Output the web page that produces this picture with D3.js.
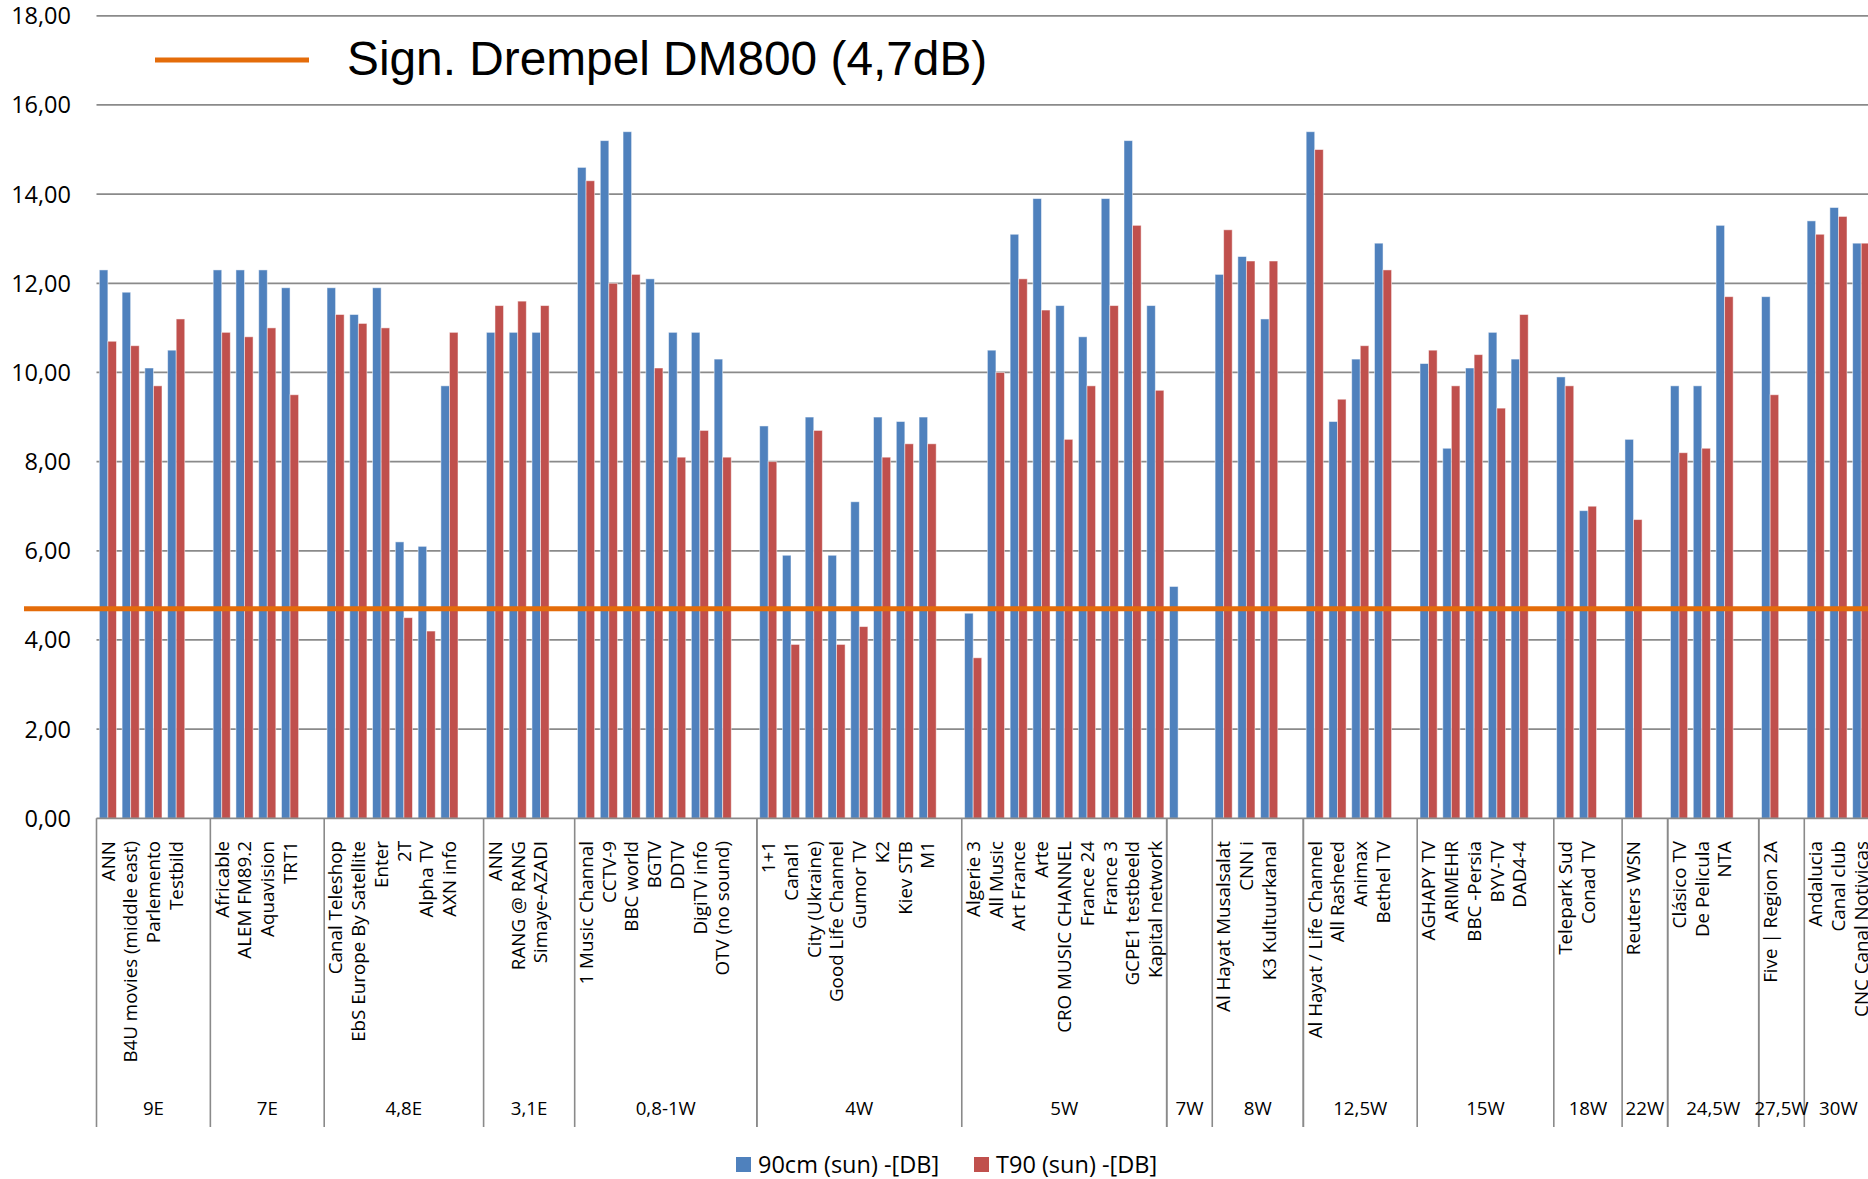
<!DOCTYPE html>
<html>
<head>
<meta charset="utf-8">
<script src="https://cdn.jsdelivr.net/npm/d3@7"></script>
<style>
  html, body { margin: 0; padding: 0; background: #ffffff; }
  svg { display: block; }
</style>
</head>
<body>
<svg id="chart" width="1868" height="1179"></svg>
<script>
// Rows as they appear in the sheet: one row per channel, with an empty
// spacer row closing most satellite positions.
const satellite = [
  "9E","9E","9E","9E","9E",
  "7E","7E","7E","7E","7E",
  "4,8E","4,8E","4,8E","4,8E","4,8E","4,8E","4,8E",
  "3,1E","3,1E","3,1E","3,1E",
  "0,8-1W","0,8-1W","0,8-1W","0,8-1W","0,8-1W","0,8-1W","0,8-1W","0,8-1W",
  "4W","4W","4W","4W","4W","4W","4W","4W","4W",
  "5W","5W","5W","5W","5W","5W","5W","5W","5W",
  "7W","7W",
  "8W","8W","8W","8W",
  "12,5W","12,5W","12,5W","12,5W","12,5W",
  "15W","15W","15W","15W","15W","15W",
  "18W","18W","18W",
  "22W","22W",
  "24,5W","24,5W","24,5W","24,5W",
  "27,5W","27,5W",
  "30W","30W","30W"
];

const channel = [
  "ANN","B4U movies (middle east)","Parlemento","Testbild","",
  "Africable","ALEM FM89.2","Aquavision","TRT1","",
  "Canal Teleshop","EbS Europe By Satellite","Enter","2T","Alpha TV","AXN info","",
  "ANN","RANG @ RANG","Simaye-AZADI","",
  "1 Music Channal","CCTV-9","BBC world","BGTV","DDTV","DigiTV info","OTV (no sound)","",
  "1+1","Canal1","City (Ukraine)","Good Life Channel","Gumor TV","K2","Kiev STB","M1","",
  "Algerie 3","All Music","Art France","Arte","CRO MUSIC CHANNEL","France 24","France 3","GCPE1 testbeeld","Kapital network",
  "","",
  "Al Hayat Musalsalat","CNN i","K3 Kultuurkanal","",
  "Al Hayat / Life Channel","All Rasheed","Animax","Bethel TV","",
  "AGHAPY TV","ARIMEHR","BBC -Persia","BYV-TV","DAD4-4","",
  "Telepark Sud","Conad TV","",
  "Reuters WSN","",
  "Clásico TV","De Pelicula","NTA","",
  "Five | Region 2A","",
  "Andalucia","Canal club","CNC Canal Notivicas"
];

// 90cm dish, sun position [dB]
const dish90 = [
  12.3,11.8,10.1,10.5,null,
  12.3,12.3,12.3,11.9,null,
  11.9,11.3,11.9,6.2,6.1,9.7,null,
  10.9,10.9,10.9,null,
  14.6,15.2,15.4,12.1,10.9,10.9,10.3,null,
  8.8,5.9,9.0,5.9,7.1,9.0,8.9,9.0,null,
  4.6,10.5,13.1,13.9,11.5,10.8,13.9,15.2,11.5,
  5.2,null,
  12.2,12.6,11.2,null,
  15.4,8.9,10.3,12.9,null,
  10.2,8.3,10.1,10.9,10.3,null,
  9.9,6.9,null,
  8.5,null,
  9.7,9.7,13.3,null,
  11.7,null,
  13.4,13.7,12.9
];

// T90 multifocus, sun position [dB]
const t90 = [
  10.7,10.6,9.7,11.2,null,
  10.9,10.8,11.0,9.5,null,
  11.3,11.1,11.0,4.5,4.2,10.9,null,
  11.5,11.6,11.5,null,
  14.3,12.0,12.2,10.1,8.1,8.7,8.1,null,
  8.0,3.9,8.7,3.9,4.3,8.1,8.4,8.4,null,
  3.6,10.0,12.1,11.4,8.5,9.7,11.5,13.3,9.6,
  null,null,
  13.2,12.5,12.5,null,
  15.0,9.4,10.6,12.3,null,
  10.5,9.7,10.4,9.2,11.3,null,
  9.7,7.0,null,
  6.7,null,
  8.2,8.3,11.7,null,
  9.5,null,
  13.1,13.5,12.9
];

const seriesKeys = ["dish90", "t90"];
const seriesNames = ["90cm (sun) -[DB]", "T90 (sun) -[DB]"];
const seriesColors = ["#4F81BD", "#C0504D"];

const yTicks = [0, 2, 4, 6, 8, 10, 12, 14, 16, 18];

const thresholdLabel = "Sign. Drempel DM800 (4,7dB)";
const thresholdValue = 4.7;

// ---------------------------------------------------------------------------

const svg = d3.select("#chart");
const W = 1868;

const plot = { left: 96.5, right: 1872.6, top: 15.8, bottom: 818.3 };

const rows = channel.map((name, i) => ({
  i, name, sat: satellite[i], dish90: dish90[i], t90: t90[i]
}));

const x = d3.scaleBand()
  .domain(rows.map(d => d.i))
  .range([plot.left, plot.right])
  .paddingInner(0)
  .paddingOuter(0);

const xs = d3.scaleBand()
  .domain(seriesKeys)
  .range([0, x.bandwidth()])
  .paddingInner(0)
  .paddingOuter(0.33);

const y = d3.scaleLinear()
  .domain([0, 18])
  .range([plot.bottom, plot.top]);

const nl = d3.formatLocale({ decimal: ",", thousands: ".", grouping: [3], currency: ["€", ""] });
const fmt = nl.format(".2f");

const CAL = "'Open Sans', 'DejaVu Sans', sans-serif";

// gridlines
svg.append("g")
  .selectAll("line")
  .data(yTicks.filter(t => t > 0))
  .join("line")
  .attr("x1", plot.left)
  .attr("x2", W)
  .attr("y1", d => y(d))
  .attr("y2", d => y(d))
  .attr("stroke", "#8a8a8a")
  .attr("stroke-width", 1.8);

// y tick labels
svg.append("g")
  .selectAll("text")
  .data(yTicks)
  .join("text")
  .attr("x", 71)
  .attr("y", d => y(d))
  .attr("dy", "0.36em")
  .attr("text-anchor", "end")
  .attr("font-family", CAL)
  .attr("font-size", 23.5)
  .attr("fill", "#000")
  .text(d => fmt(d));

// bars
const barG = svg.append("g");
seriesKeys.forEach((key, si) => {
  barG.append("g")
    .selectAll("rect")
    .data(rows.filter(d => d[key] != null))
    .join("rect")
    .attr("x", d => x(d.i) + xs(key))
    .attr("width", xs.bandwidth())
    .attr("y", d => y(d[key]))
    .attr("height", d => y(0) - y(d[key]))
    .attr("fill", seriesColors[si])
    .attr("stroke", "#ffffff")
    .attr("stroke-opacity", 0.55)
    .attr("stroke-width", 0.9);
});

// category axis line
svg.append("line")
  .attr("x1", plot.left).attr("x2", W)
  .attr("y1", y(0)).attr("y2", y(0))
  .attr("stroke", "#8a8a8a").attr("stroke-width", 1.8);

// satellite groups
const groups = [];
rows.forEach(d => {
  const g = groups[groups.length - 1];
  if (g && g.sat === d.sat) g.last = d.i;
  else groups.push({ sat: d.sat, first: d.i, last: d.i });
});
groups.forEach(g => {
  g.x0 = x(g.first);
  g.x1 = x(g.last) + x.bandwidth();
});

const sepX = Array.from(new Set(groups.flatMap(g => [g.x0, g.x1])));
svg.append("g")
  .selectAll("line")
  .data(sepX)
  .join("line")
  .attr("x1", d => d).attr("x2", d => d)
  .attr("y1", y(0)).attr("y2", 1127)
  .attr("stroke", "#8a8a8a").attr("stroke-width", 1.6);

svg.append("g")
  .selectAll("text")
  .data(groups)
  .join("text")
  .attr("x", d => (d.x0 + d.x1) / 2)
  .attr("y", 1115)
  .attr("text-anchor", "middle")
  .attr("font-family", CAL)
  .attr("font-size", 18.7)
  .attr("fill", "#000")
  .text(d => d.sat);

// channel labels, rotated
svg.append("g")
  .selectAll("text")
  .data(rows.filter(d => d.name !== ""))
  .join("text")
  .attr("transform", d => `translate(${x(d.i) + x.bandwidth() / 2},841) rotate(-90)`)
  .attr("dy", "0.36em")
  .attr("text-anchor", "end")
  .attr("font-family", CAL)
  .attr("font-size", 18.8)
  .attr("fill", "#000")
  .text(d => d.name);

// threshold line
svg.append("line")
  .attr("x1", 24).attr("x2", W)
  .attr("y1", y(thresholdValue)).attr("y2", y(thresholdValue))
  .attr("stroke", "#E46C0A").attr("stroke-width", 5);

// threshold legend
svg.append("line")
  .attr("x1", 155).attr("x2", 309)
  .attr("y1", 60).attr("y2", 60)
  .attr("stroke", "#E46C0A").attr("stroke-width", 5);
svg.append("text")
  .attr("x", 347).attr("y", 75)
  .attr("font-family", "'Liberation Sans', Arial, sans-serif")
  .attr("font-size", 47.8)
  .attr("fill", "#000")
  .text(thresholdLabel);

// series legend
const legendX = [736, 974];
const leg = svg.append("g");
seriesNames.forEach((name, i) => {
  leg.append("rect")
    .attr("x", legendX[i]).attr("y", 1157)
    .attr("width", 15).attr("height", 15)
    .attr("fill", seriesColors[i]);
  leg.append("text")
    .attr("x", legendX[i] + 22).attr("y", 1173)
    .attr("font-family", CAL)
    .attr("font-size", 23.5)
    .attr("fill", "#000")
    .text(name);
});
</script>
</body>
</html>
